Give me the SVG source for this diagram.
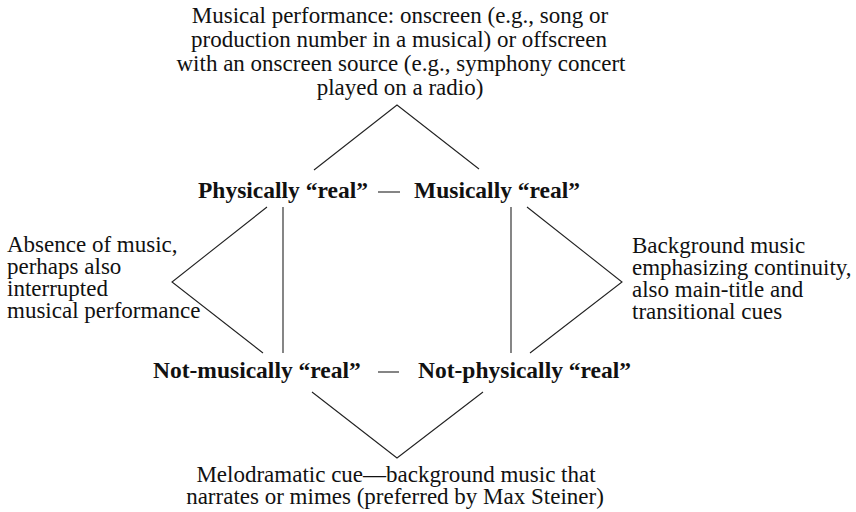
<svg xmlns="http://www.w3.org/2000/svg" width="856" height="512" viewBox="0 0 856 512">
<style>
  .t { font-family: "Liberation Serif", "Times New Roman", serif; font-size: 23px; fill: #111; }
  .b { font-family: "Liberation Serif", "Times New Roman", serif; font-size: 23.5px; font-weight: bold; fill: #111; }
  .c { text-anchor: middle; }
  .ln { stroke: #222; stroke-width: 1.1; fill: none; }
</style>
<rect width="856" height="512" fill="#fff"/>
<g id="connectors">
  <polyline class="ln" points="314,170 397,105 479,169"/>
  <polyline class="ln" points="267,207 172,282 263,353"/>
  <polyline class="ln" points="527,207 622,282 530,353"/>
  <polyline class="ln" points="312,392 397,458 483,392"/>
  <line class="ln" x1="283" y1="207" x2="283" y2="353"/>
  <line class="ln" x1="511" y1="207" x2="511" y2="353"/>
  <line class="ln" x1="378" y1="192" x2="400" y2="192"/>
  <line class="ln" x1="378" y1="372" x2="399" y2="372"/>
</g>
<g id="top-note">
  <text class="t c" x="400" y="23">Musical performance: onscreen (e.g., song or</text>
  <text class="t c" x="399" y="47">production number in a musical) or offscreen</text>
  <text class="t c" x="401" y="71">with an onscreen source (e.g., symphony concert</text>
  <text class="t c" x="400" y="95">played on a radio)</text>
</g>
<g id="physically-real">
  <text class="b" x="198" y="198">Physically “real”</text>
</g>
<g id="musically-real">
  <text class="b" x="414" y="198">Musically “real”</text>
</g>
<g id="left-note">
  <text class="t" x="7" y="252">Absence of music,</text>
  <text class="t" x="7" y="274">perhaps also</text>
  <text class="t" x="7" y="296">interrupted</text>
  <text class="t" x="7" y="318">musical performance</text>
</g>
<g id="right-note">
  <text class="t" x="632" y="253">Background music</text>
  <text class="t" x="632" y="275">emphasizing continuity,</text>
  <text class="t" x="632" y="297">also main-title and</text>
  <text class="t" x="632" y="319">transitional cues</text>
</g>
<g id="not-musically-real">
  <text class="b" x="153" y="378">Not-musically “real”</text>
</g>
<g id="not-physically-real">
  <text class="b" x="418" y="378">Not-physically “real”</text>
</g>
<g id="bottom-note">
  <text class="t c" x="396" y="482">Melodramatic cue—background music that</text>
  <text class="t c" x="395" y="504">narrates or mimes (preferred by Max Steiner)</text>
</g>
</svg>
